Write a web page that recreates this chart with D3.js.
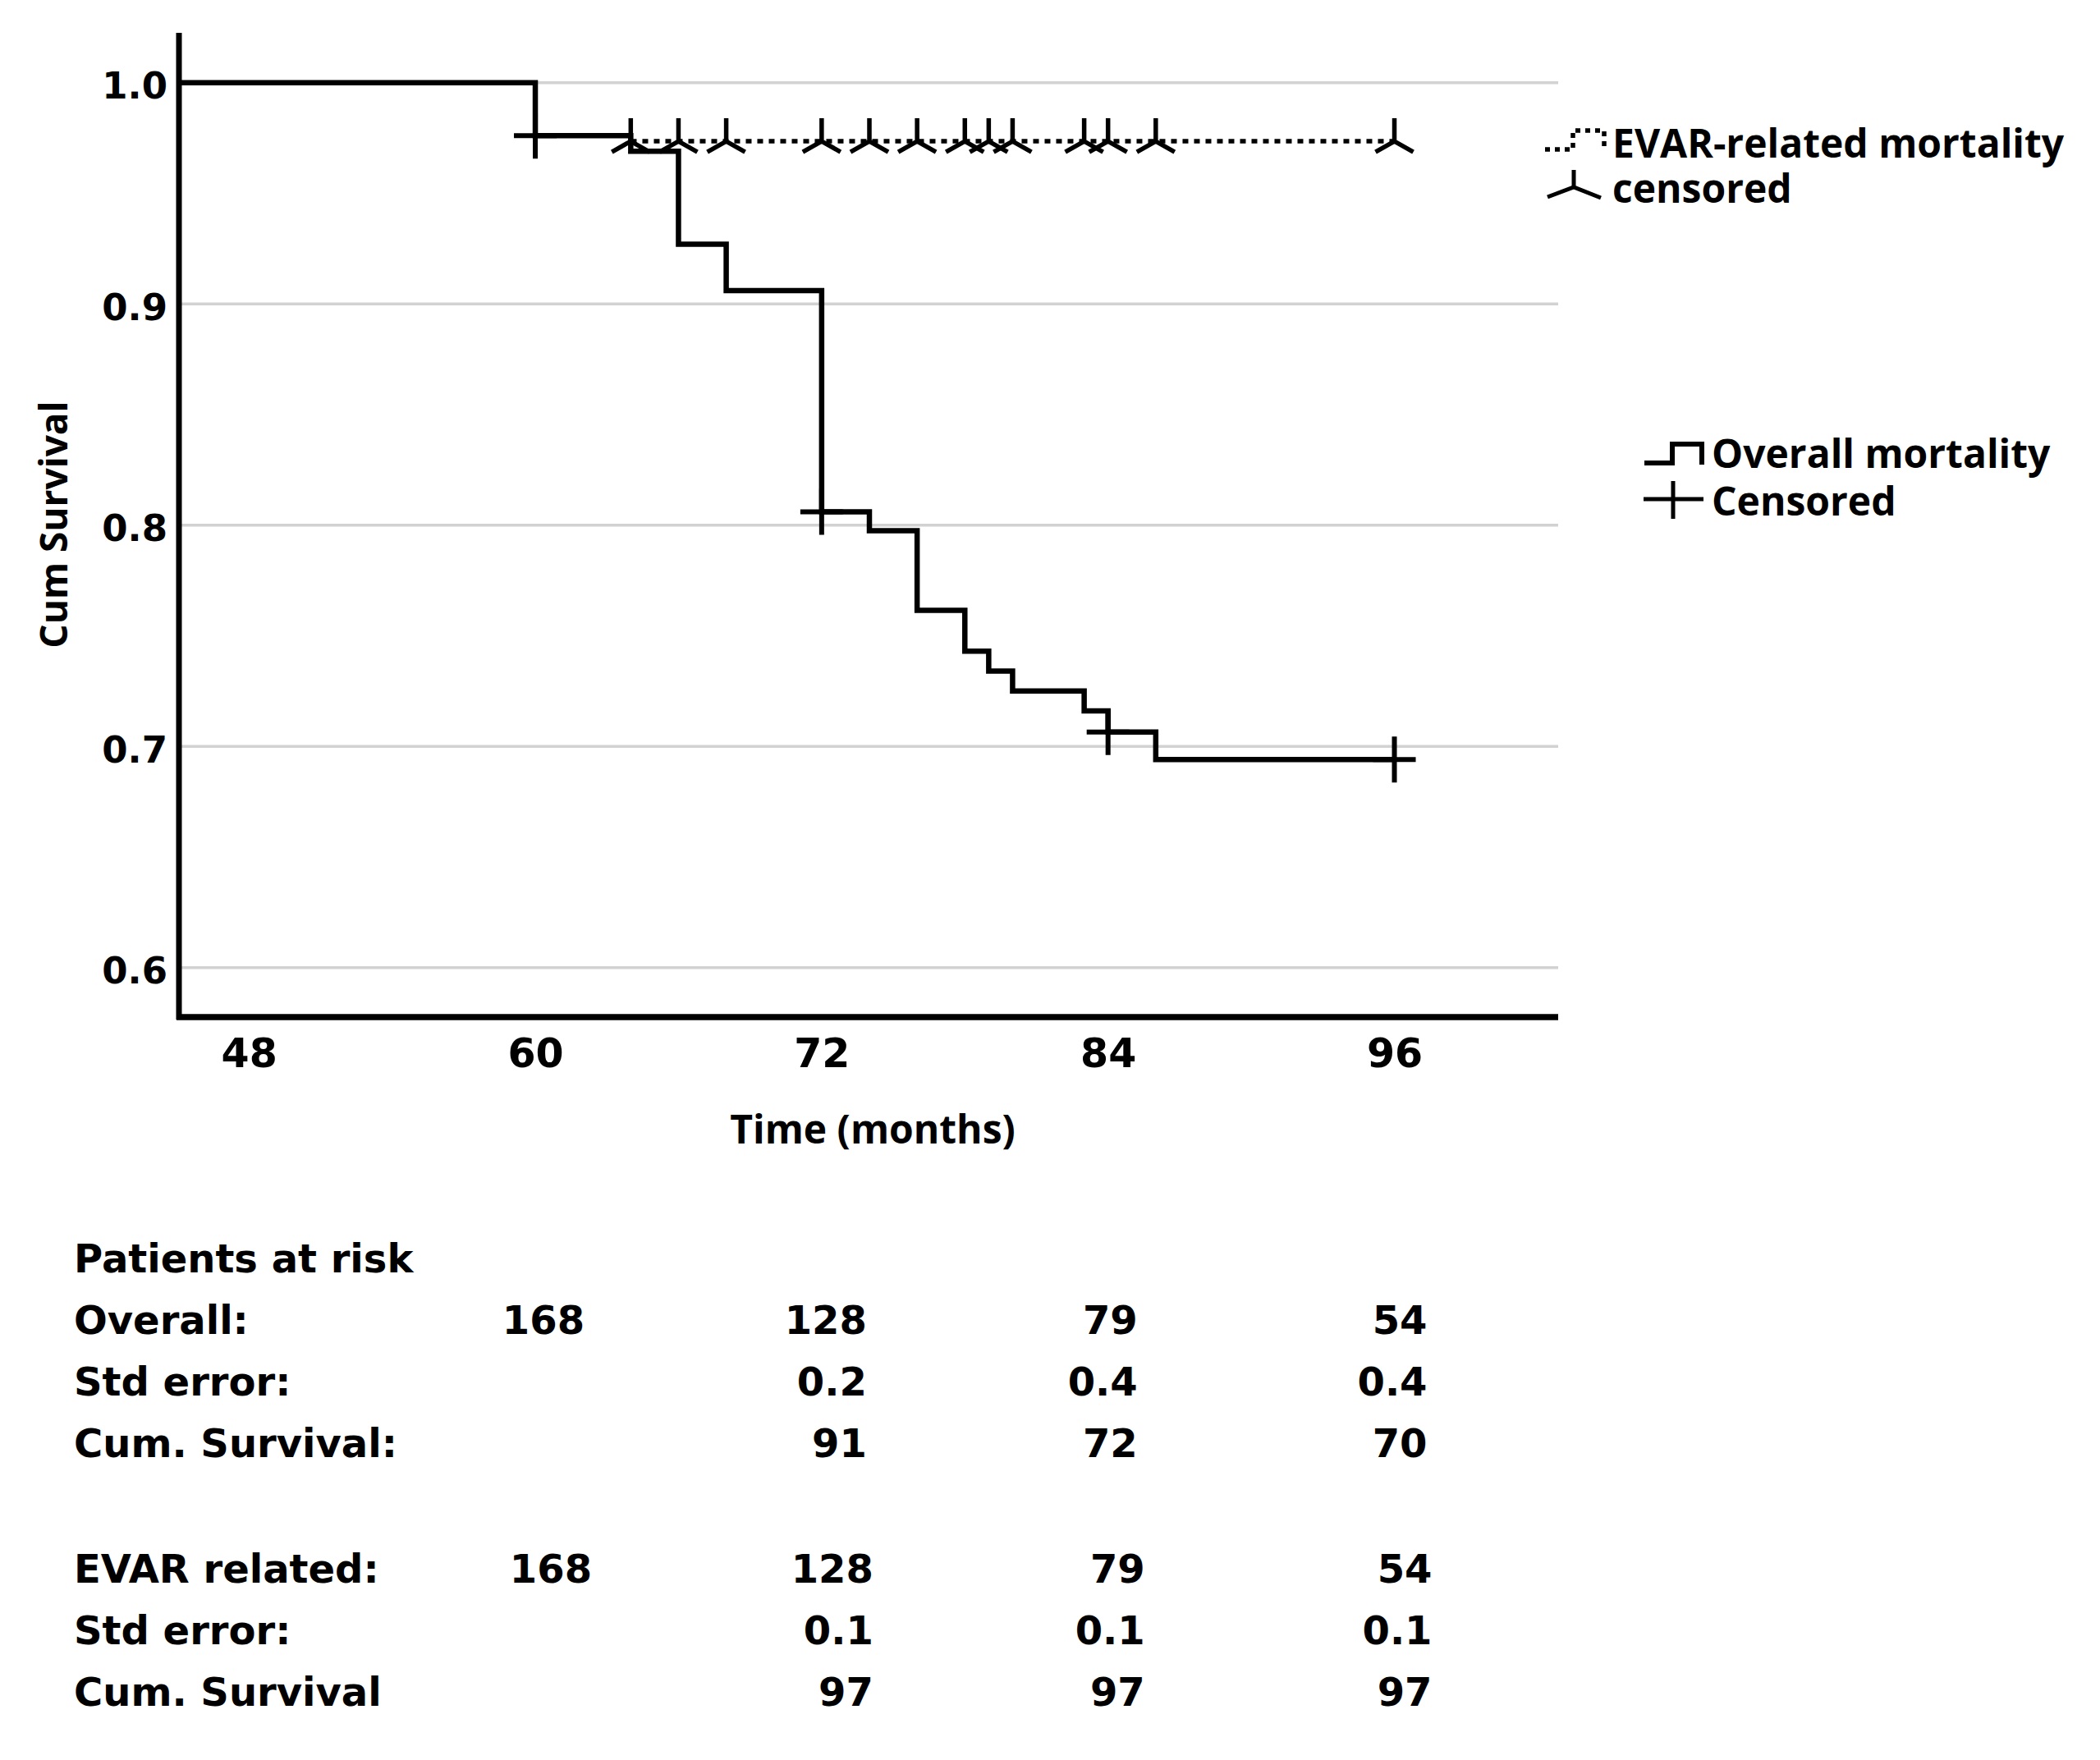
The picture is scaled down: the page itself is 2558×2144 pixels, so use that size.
<!DOCTYPE html>
<html>
<head>
<meta charset="utf-8">
<script src="https://cdn.jsdelivr.net/npm/d3@7/dist/d3.min.js"></script>
<style>
  html, body { margin: 0; padding: 0; background: #fff; }
  svg { display: block; }
</style>
</head>
<body>
<div id="chart"></div>
<script>
// ---------------- DATA ----------------
const xTicks = [48, 60, 72, 84, 96];
const yTicks = [0.6, 0.7, 0.8, 0.9, 1.0];

// Overall mortality (Kaplan–Meier step points: time, cumulative survival after the step)
const overallTimes = [0, 60, 64, 66, 68, 72, 74, 76, 78, 79, 80, 83, 84, 86, 96];
const overallSurv  = [1.0, 0.976, 0.969, 0.927, 0.906, 0.806, 0.7975, 0.7615, 0.743, 0.734, 0.725, 0.716, 0.7065, 0.694, 0.694];
const overallCensorTimes = [60, 72, 84, 96];

// EVAR-related mortality
const evarTimes = [0, 60, 64, 96];
const evarSurv  = [1.0, 0.976, 0.9735, 0.9735];
const evarCensorTimes = [64, 66, 68, 72, 74, 76, 78, 79, 80, 83, 84, 86, 96];

// Patients-at-risk table
const riskTitle = "Patients at risk";
const overallRowLabels = ["Overall:", "Std error:", "Cum. Survival:"];
const overallRowValues = [["168", "128", "79", "54"], ["", "0.2", "0.4", "0.4"], ["", "91", "72", "70"]];
const evarRowLabels = ["EVAR related:", "Std error:", "Cum. Survival"];
const evarRowValues = [["168", "128", "79", "54"], ["", "0.1", "0.1", "0.1"], ["", "97", "97", "97"]];
const tableTimes = [60, 72, 84, 96];

const legendEvar = ["EVAR-related mortality", "censored"];
const legendOverall = ["Overall mortality", "Censored"];

// ---------------- LAYOUT ----------------
const W = 2558, H = 2144;
const svg = d3.select("#chart").append("svg")
  .attr("width", W).attr("height", H)
  .attr("viewBox", `0 0 ${W} ${H}`);
svg.append("rect").attr("width", W).attr("height", H).attr("fill", "#fff");

const x = d3.scaleLinear().domain([45, 103]).range([216, 1902]);
const y = d3.scaleLinear().domain([0.578, 1.0225]).range([1238, 40]);

const FONT_TICK = "'DejaVu Sans', sans-serif";
const FONT_TITLE = "'Open Sans', sans-serif";

// gridlines
svg.append("g").selectAll("line").data(yTicks).join("line")
  .attr("x1", x(45)).attr("x2", 1898)
  .attr("y1", d => y(d)).attr("y2", d => y(d))
  .attr("stroke", "#d2d2d2").attr("stroke-width", 3.5);

// clip for curves
svg.append("clipPath").attr("id", "plotclip").append("rect")
  .attr("x", x(45)).attr("y", 30).attr("width", 1898 - x(45)).attr("height", 1210);

const line = d3.line().x(d => x(d[0])).y(d => y(d[1])).curve(d3.curveStepAfter);

const curves = svg.append("g").attr("clip-path", "url(#plotclip)");

// EVAR-related (dotted)
curves.append("path")
  .datum(evarTimes.map((t, i) => [t, evarSurv[i]]))
  .attr("d", line).attr("fill", "none")
  .attr("stroke", "#000").attr("stroke-width", 5.5)
  .attr("stroke-dasharray", "7,7");

// Overall (solid)
curves.append("path")
  .datum(overallTimes.map((t, i) => [t, overallSurv[i]]))
  .attr("d", line).attr("fill", "none")
  .attr("stroke", "#000").attr("stroke-width", 6.5)
  .attr("stroke-linejoin", "miter");

function survAt(times, surv, t) {
  let v = surv[0];
  for (let i = 0; i < times.length; i++) if (times[i] <= t) v = surv[i];
  return v;
}

// Overall censor marks (+)
svg.append("g").selectAll("path").data(overallCensorTimes).join("path")
  .attr("d", t => {
    const cx = x(t), cy = y(survAt(overallTimes, overallSurv, t));
    return `M${cx - 26},${cy}H${cx + 26}M${cx},${cy - 28}V${cy + 28}`;
  })
  .attr("stroke", "#000").attr("stroke-width", 6).attr("fill", "none");

// EVAR censor marks (inverted Y)
svg.append("g").selectAll("path").data(evarCensorTimes).join("path")
  .attr("d", t => {
    const cx = x(t), cy = y(survAt(evarTimes, evarSurv, t));
    return `M${cx},${cy - 28}V${cy}M${cx - 23},${cy + 13}L${cx},${cy}L${cx + 23},${cy + 13}`;
  })
  .attr("stroke", "#000").attr("stroke-width", 5.5).attr("fill", "none");

// axes lines
svg.append("line").attr("x1", 218).attr("x2", 218).attr("y1", y(1.0225)).attr("y2", 1242)
  .attr("stroke", "#000").attr("stroke-width", 7);
svg.append("line").attr("x1", 215).attr("x2", 1898).attr("y1", 1239).attr("y2", 1239)
  .attr("stroke", "#000").attr("stroke-width", 7.5);

// x axis labels
const gx = svg.append("g").attr("transform", "translate(0,1238)")
  .call(d3.axisBottom(x).tickValues(xTicks).tickSize(0).tickPadding(27).tickFormat(d3.format("d")));
gx.select(".domain").remove();
gx.selectAll("text").attr("font-family", FONT_TICK).attr("font-weight", "bold")
  .attr("font-size", 49).attr("fill", "#000");

// y axis labels
const gy = svg.append("g").attr("transform", "translate(218,0)")
  .call(d3.axisLeft(y).tickValues(yTicks).tickSize(0).tickPadding(14).tickFormat(d3.format(".1f")));
gy.select(".domain").remove();
gy.selectAll("text").attr("font-family", FONT_TICK).attr("font-weight", "bold")
  .attr("font-size", 45).attr("dy", "0.42em").attr("fill", "#000");

// axis titles
svg.append("text").attr("x", 1063).attr("y", 1393)
  .attr("text-anchor", "middle").attr("font-family", FONT_TITLE).attr("font-weight", 700)
  .attr("font-size", 48).text("Time (months)");
svg.append("text").attr("transform", "translate(82,639) rotate(-90)")
  .attr("text-anchor", "middle").attr("font-family", FONT_TITLE).attr("font-weight", 700)
  .attr("font-size", 46).text("Cum Survival");

// legends
const lg = svg.append("g").attr("font-family", FONT_TITLE).attr("font-weight", 700).attr("font-size", 48);
lg.append("path").attr("d", "M1882,182H1916V159H1954V182")
  .attr("fill", "none").attr("stroke", "#000").attr("stroke-width", 5.5).attr("stroke-dasharray", "6,6");
lg.append("text").attr("x", 1964).attr("y", 192).text(legendEvar[0]);
lg.append("path").attr("d", "M1917,207V228M1885,240L1917,228L1950,241")
  .attr("fill", "none").attr("stroke", "#000").attr("stroke-width", 5);
lg.append("text").attr("x", 1964).attr("y", 247).text(legendEvar[1]);

lg.append("path").attr("d", "M2003,564H2037V541H2073V566")
  .attr("fill", "none").attr("stroke", "#000").attr("stroke-width", 6);
lg.append("text").attr("x", 2085).attr("y", 570).text(legendOverall[0]);
lg.append("path").attr("d", "M2002,608H2075M2038,586V632")
  .attr("fill", "none").attr("stroke", "#000").attr("stroke-width", 5);
lg.append("text").attr("x", 2085).attr("y", 628).text(legendOverall[1]);

// Patients at risk table
const tb = svg.append("g").attr("font-family", FONT_TICK).attr("font-weight", "bold")
  .attr("font-size", 48).attr("fill", "#000");
tb.append("text").attr("x", 90).attr("y", 1550).text(riskTitle);

const colOffsetOverall = [60, 55, 36, 40];
const colOffsetEvar = [69, 63, 45, 46];
function drawBlock(labels, values, baseY, offsets) {
  labels.forEach((lab, r) => {
    const yy = baseY + r * 75;
    tb.append("text").attr("x", 90).attr("y", yy).text(lab);
    values[r].forEach((v, c) => {
      if (!v) return;
      tb.append("text").attr("x", x(tableTimes[c]) + offsets[c]).attr("y", yy)
        .attr("text-anchor", "end").text(v);
    });
  });
}
drawBlock(overallRowLabels, overallRowValues, 1625, colOffsetOverall);
drawBlock(evarRowLabels, evarRowValues, 1928, colOffsetEvar);
</script>
</body>
</html>
